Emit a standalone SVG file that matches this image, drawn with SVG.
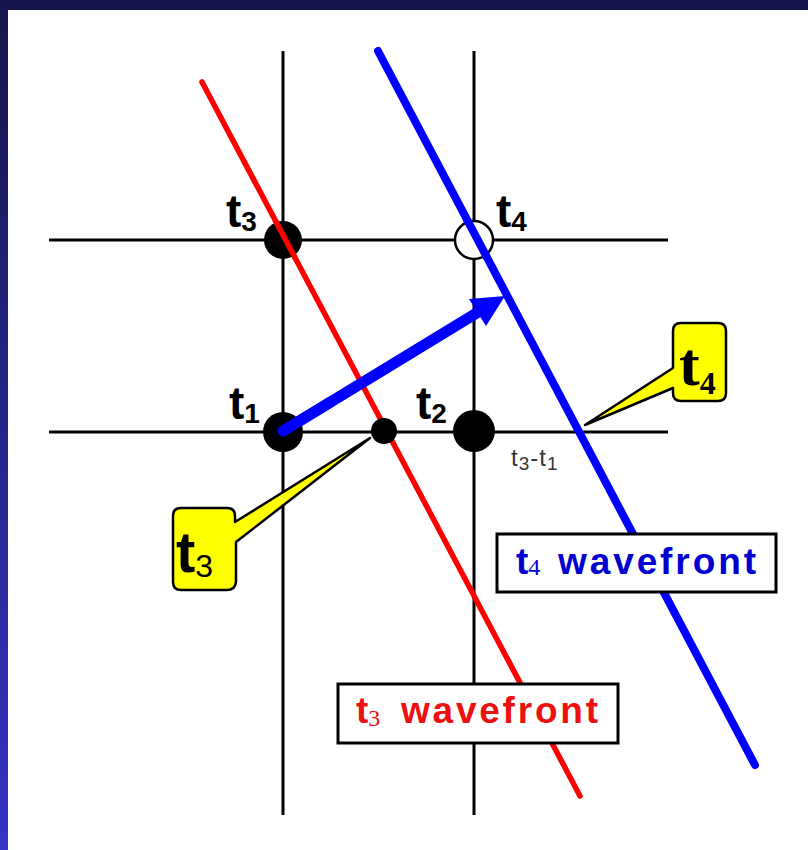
<svg xmlns="http://www.w3.org/2000/svg" width="808" height="850" viewBox="0 0 808 850">
  <defs>
    <linearGradient id="side" x1="0" y1="0" x2="0" y2="1">
      <stop offset="0" stop-color="#14164a"/>
      <stop offset="1" stop-color="#3434c6"/>
    </linearGradient>
    <style>
      .grid{stroke:#000;stroke-width:3;fill:none}
      .dot{fill:#000}
      .lbl{font-family:"Liberation Sans",Arial,sans-serif;font-weight:bold;fill:#000}
      .call{fill:#ffff00;stroke:#000;stroke-width:2.5;stroke-linejoin:round}
      .wbox{fill:#fff;stroke:#000;stroke-width:3}
      .wtxt{font-family:"Liberation Sans",Arial,sans-serif;font-weight:bold;font-size:37px}
      .sub{font-family:"Liberation Serif","Times New Roman",serif;font-weight:normal}
    </style>
  </defs>

  <!-- background -->
  <rect x="0" y="0" width="808" height="850" fill="url(#side)"/>
  <rect x="0" y="0" width="808" height="10" fill="#13154a"/>
  <rect x="8" y="10" width="800" height="840" fill="#fff"/>

  <!-- connectors: grid, wavefronts, arrow -->
  <g id="connectors">
    <line class="grid" x1="283" y1="51" x2="283" y2="815"/>
    <line class="grid" x1="474" y1="51" x2="474" y2="815"/>
    <line class="grid" x1="49" y1="240" x2="668" y2="240"/>
    <line class="grid" x1="49" y1="432" x2="668" y2="432"/>
    <line x1="202" y1="82" x2="580" y2="796" stroke="#ff0000" stroke-width="5.5" stroke-linecap="round"/>
    <line x1="378" y1="51" x2="755" y2="765" stroke="#0000ff" stroke-width="8" stroke-linecap="round"/>
    <g id="arrow" fill="#0000ff">
      <line x1="283" y1="431" x2="480" y2="311" stroke="#0000ff" stroke-width="11" stroke-linecap="round"/>
      <polygon points="505,296 486,326 469,299"/>
    </g>
  </g>

  <!-- grid points -->
  <g id="node-t3">
    <circle class="dot" cx="283" cy="240" r="19"/>
    <text class="lbl" x="226" y="227" font-size="46">t<tspan font-size="28" dy="4">3</tspan></text>
  </g>
  <line x1="202" y1="82" x2="580" y2="796" stroke="#ff0000" stroke-width="5.5" stroke-linecap="round" clip-path="url(#c3)"/>
  <g id="node-t4">
    <circle cx="474" cy="240" r="19" fill="#fff" stroke="#000" stroke-width="2.5"/>
    <text class="lbl" x="496" y="227" font-size="46">t<tspan font-size="28" dy="4">4</tspan></text>
  </g>
  <g id="node-t4-cover">
    <line x1="378" y1="51" x2="755" y2="765" stroke="#0000ff" stroke-width="8" stroke-linecap="round" clip-path="url(#c4)"/>
  </g>
  <clipPath id="c3"><circle cx="283" cy="240" r="22"/></clipPath>
  <clipPath id="c4"><circle cx="474" cy="240" r="22"/></clipPath>
  <g id="node-t1">
    <circle class="dot" cx="283" cy="432" r="20"/>
    <text class="lbl" x="229" y="419" font-size="46">t<tspan font-size="28" dy="4">1</tspan></text>
  </g>
  <line x1="283" y1="431" x2="330" y2="402.4" stroke="#0000ff" stroke-width="11" stroke-linecap="round"/>
  <g id="node-t3-point">
    <circle class="dot" cx="384" cy="431" r="13"/>
  </g>
  <g id="node-t2">
    <circle class="dot" cx="474" cy="431" r="21"/>
    <text class="lbl" x="416" y="419" font-size="46">t<tspan font-size="28" dy="4">2</tspan></text>
  </g>
  <g id="diff-label">
    <text x="511" y="466" font-family="'Liberation Sans',Arial,sans-serif" font-size="24" fill="#333" letter-spacing="1">t<tspan font-size="19" dy="4">3</tspan><tspan dy="-4">-t</tspan><tspan font-size="19" dy="4">1</tspan></text>
  </g>

  <!-- callouts -->
  <g id="callout-t4">
    <path class="call" d="M681,323 H718 Q726,323 726,331 V393 Q726,401 718,401 H681 Q673,401 673,393 V388 L585,425 L673,368 V331 Q673,323 681,323 Z"/>
    <text x="679" y="385" font-family="'Liberation Serif','Times New Roman',serif" font-weight="bold" font-size="62" fill="#000">t<tspan font-size="32" dy="9">4</tspan></text>
  </g>
  <g id="callout-t3">
    <path class="call" d="M181,508 H227 Q235,508 235,516 V522 L370,438 L236,542 V582 Q235,590 227,590 H181 Q173,590 173,582 V516 Q173,508 181,508 Z"/>
    <text x="176" y="572" font-family="'Liberation Sans',Arial,sans-serif" font-weight="bold" font-size="58" fill="#000">t<tspan font-weight="normal" font-size="32" dy="5">3</tspan></text>
  </g>

  <!-- wavefront labels -->
  <g id="label-t4-wavefront">
    <rect class="wbox" x="497" y="534" width="279" height="58"/>
    <text class="wtxt" x="516" y="574" fill="#0000d0">t<tspan class="sub" font-size="24" dy="1">4</tspan></text>
    <text class="wtxt" x="558" y="574" fill="#0000d0" textLength="198" lengthAdjust="spacing">wavefront</text>
  </g>
  <g id="label-t3-wavefront">
    <rect class="wbox" x="338" y="684" width="280" height="59"/>
    <text class="wtxt" x="356" y="723" fill="#ee1010">t<tspan class="sub" font-size="24" dy="3">3</tspan></text>
    <text class="wtxt" x="401" y="723" fill="#ee1010" textLength="197" lengthAdjust="spacing">wavefront</text>
  </g>
</svg>
